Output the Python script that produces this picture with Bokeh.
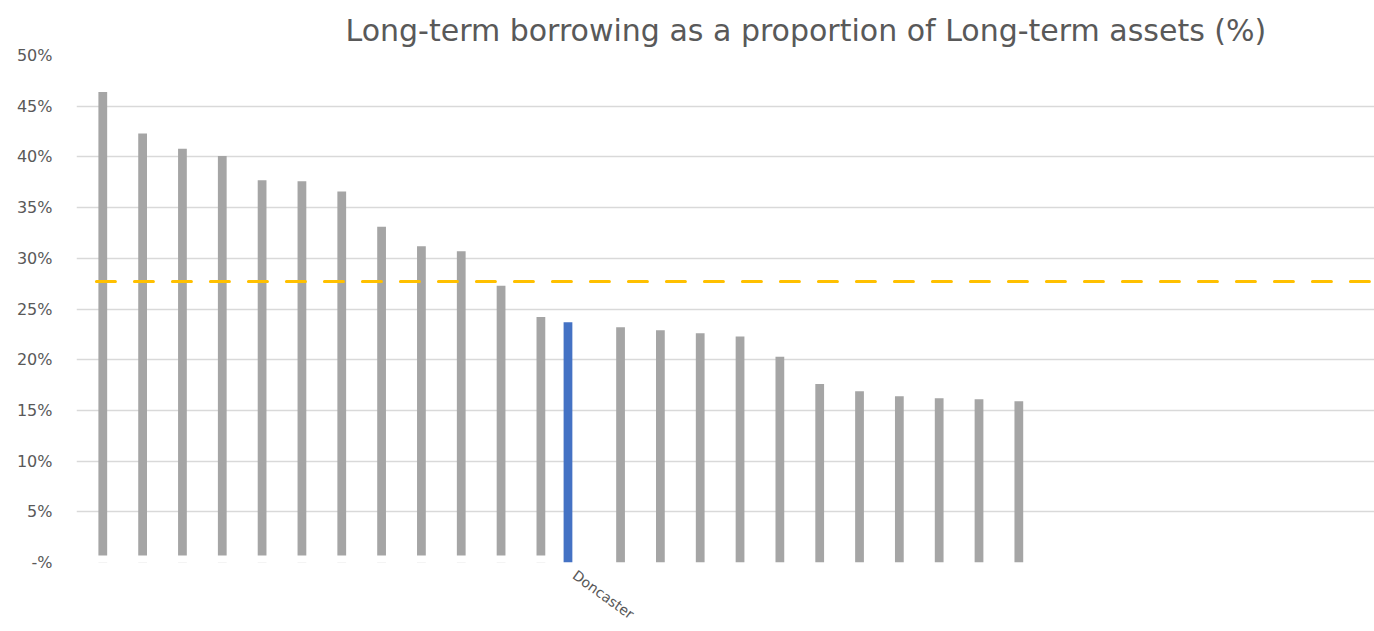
from bokeh.plotting import figure
from bokeh.models import FixedTicker, BoxAnnotation, Range1d
from bokeh.embed import file_html
from bokeh.resources import INLINE

# ---- data ----
title_text = "Long-term borrowing as a proportion of Long-term assets (%)"
highlight_name = "Doncaster"
n_categories = 33
category_labels = [""] * 12 + ["Doncaster"] + [""] * 20
values = [46.4, 42.3, 40.8, 40.1, 37.7, 37.6, 36.6, 33.1, 31.2, 30.7, 27.3, 24.2,
          23.7, 23.2, 22.9, 22.6, 22.3, 20.3, 17.6, 16.9, 16.4, 16.2, 16.1, 15.9]
average = 27.7
y_ticks = [0, 5, 10, 15, 20, 25, 30, 35, 40, 45, 50]
y_tick_labels = ["-%", "5%", "10%", "15%", "20%", "25%", "30%", "35%", "40%", "45%", "50%"]

GRAY = "#A5A5A5"
BLUE = "#4472C4"
GOLD = "#FFC000"
GRID = "#D9D9D9"
TEXT = "#595959"
FONT = "DejaVu Sans"

hi = category_labels.index(highlight_name)
gray_x = [i + 0.16 for i in range(len(values)) if i != hi]
gray_y = [v for i, v in enumerate(values) if i != hi]
blue_x = [hi - 0.16]
blue_y = [values[hi]]

p = figure(width=1374, height=631, output_backend="svg", toolbar_location=None,
           x_range=Range1d(-0.5, 32.09), y_range=Range1d(0, 50),
           min_border_left=76, min_border_right=0, min_border_top=55, min_border_bottom=69)
p.outline_line_color = None
p.background_fill_color = "white"
p.border_fill_color = "white"

p.title.text = title_text
p.title.text_font = FONT
p.title.text_font_size = "30px"
p.title.text_font_style = "normal"
p.title.text_color = TEXT
p.title.align = "left"
p.title.offset = 269
p.title.standoff = 15

p.vbar(x=gray_x, top=gray_y, bottom=0, width=0.22, fill_color=GRAY, line_color=None)
p.vbar(x=blue_x, top=blue_y, bottom=0, width=0.22, fill_color=BLUE, line_color=None)
p.line(x=[0, n_categories - 1], y=[average, average], line_color=GOLD, line_width=3,
       line_dash="19 19", line_cap="round")

# area below the left bars is blank in the source picture
p.add_layout(BoxAnnotation(right=hi - 0.5, top=0.7, bottom=-5, fill_color="white",
                           fill_alpha=1, line_alpha=0))

# y axis
p.yaxis.ticker = FixedTicker(ticks=y_ticks)
p.yaxis.major_label_overrides = {t: l for t, l in zip(y_ticks, y_tick_labels)}
p.yaxis.axis_line_color = None
p.yaxis.major_tick_line_color = None
p.yaxis.minor_tick_line_color = None
p.yaxis.major_tick_out = 0
p.yaxis.major_tick_in = 0
p.yaxis.major_label_standoff = 24
p.yaxis.major_label_text_font = FONT
p.yaxis.major_label_text_font_size = "16px"
p.yaxis.major_label_text_color = TEXT

# x axis: only the highlighted category is labelled (rotated text)
lab_ticks = [i for i, l in enumerate(category_labels) if l]
p.xaxis.ticker = FixedTicker(ticks=lab_ticks)
p.xaxis.major_label_overrides = {i: category_labels[i] for i in lab_ticks}
p.xaxis.axis_line_color = None
p.xaxis.major_tick_line_color = None
p.xaxis.minor_tick_line_color = None
p.xaxis.major_tick_out = 0
p.xaxis.major_tick_in = 0
p.xaxis.major_label_orientation = -0.63
p.xaxis.major_label_standoff = 11
p.xaxis.major_label_text_font = FONT
p.xaxis.major_label_text_font_size = "14px"
p.xaxis.major_label_text_color = TEXT

p.xgrid.grid_line_color = None
p.ygrid.ticker = FixedTicker(ticks=y_ticks)
p.ygrid.grid_line_color = GRID
p.ygrid.grid_line_width = 1.5

open("out.html", "w").write(file_html(p, INLINE))
